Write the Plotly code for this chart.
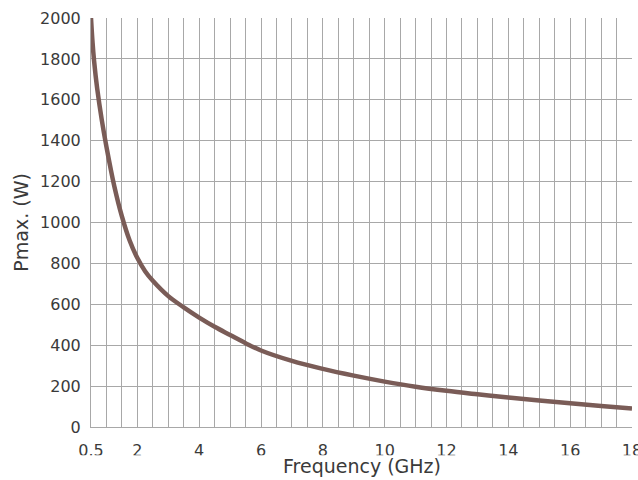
import plotly.graph_objects as go

freq_ghz = [0.5, 0.55, 0.6, 0.7, 0.85, 1.0, 1.25, 1.5, 1.75, 2.0, 2.25, 2.5, 3.0, 3.5, 4.0, 4.5,
            5.0, 5.5, 6.0, 7.0, 8.0, 9.0, 10.0, 11.0, 12.0, 13.0, 14.0, 15.0, 16.0, 17.0, 18.0]
pmax_w = [2000, 1880, 1790, 1655, 1500, 1370, 1180, 1030, 912, 826, 762, 715, 640, 585, 535, 490,
          450, 410, 374, 323, 284, 251, 222, 197, 177, 160, 144, 130, 116, 103, 90]

x_tick_vals = [0.5, 2, 4, 6, 8, 10, 12, 14, 16, 18]
x_tick_text = ["0.5", "2", "4", "6", "8", "10", "12", "14", "16", "18"]
y_tick_vals = [0, 200, 400, 600, 800, 1000, 1200, 1400, 1600, 1800, 2000]

fig = go.Figure()
fig.add_trace(go.Scatter(
    x=freq_ghz, y=pmax_w, mode="lines",
    line=dict(color="#7a5c57", width=4.5, shape="spline", smoothing=1.0),
    hoverinfo="skip", showlegend=False, cliponaxis=False,
))

font_family = "DejaVu Sans"
grid_color = "#a8a8a8"
text_color = "#3a3a3a"

fig.update_layout(
    width=638, height=480,
    margin=dict(l=91, r=6, t=18, b=53, autoexpand=False),
    paper_bgcolor="white", plot_bgcolor="white",
    font=dict(family=font_family, size=16, color=text_color),
    showlegend=False,
)

fig.update_xaxes(
    range=[0.5, 18], automargin=False,
    tickmode="array", tickvals=x_tick_vals, ticktext=x_tick_text,
    ticklabeloverflow="allow",
    showgrid=False, zeroline=False,
    showline=True, linecolor=grid_color, linewidth=1,
    ticks="outside", ticklen=9, tickcolor="rgba(0,0,0,0)",
    tickfont=dict(family=font_family, size=16, color=text_color),
    minor=dict(dtick=0.5, tick0=0.5, showgrid=True, gridcolor=grid_color, gridwidth=1),
)
fig.update_yaxes(
    range=[0, 2000], automargin=False,
    tickmode="array", tickvals=y_tick_vals,
    ticklabeloverflow="allow",
    showgrid=True, gridcolor=grid_color, gridwidth=1,
    zeroline=False,
    showline=True, linecolor=grid_color, linewidth=1,
    ticks="outside", ticklen=6, tickcolor="rgba(0,0,0,0)",
    tickfont=dict(family=font_family, size=16, color=text_color),
)

# white band that cuts off the lower part of the x tick labels, as in the reference
fig.add_shape(type="rect", xref="paper", yref="paper",
              x0=-0.2, x1=1.05, y0=-0.2, y1=-0.069,
              fillcolor="white", line=dict(width=0), layer="above")

fig.add_annotation(text="Frequency (GHz)", xref="paper", yref="paper",
                   x=0.5, y=-0.095, xanchor="center", yanchor="middle",
                   showarrow=False, font=dict(family=font_family, size=19, color=text_color))
fig.add_annotation(text="Pmax. (W)", xref="paper", yref="paper",
                   x=-0.131, y=0.5, xanchor="center", yanchor="middle", textangle=-90,
                   showarrow=False, font=dict(family=font_family, size=19, color=text_color))

fig.write_html("out.html", config={"displayModeBar": False},
               post_script="document.body.style.margin='0';")
